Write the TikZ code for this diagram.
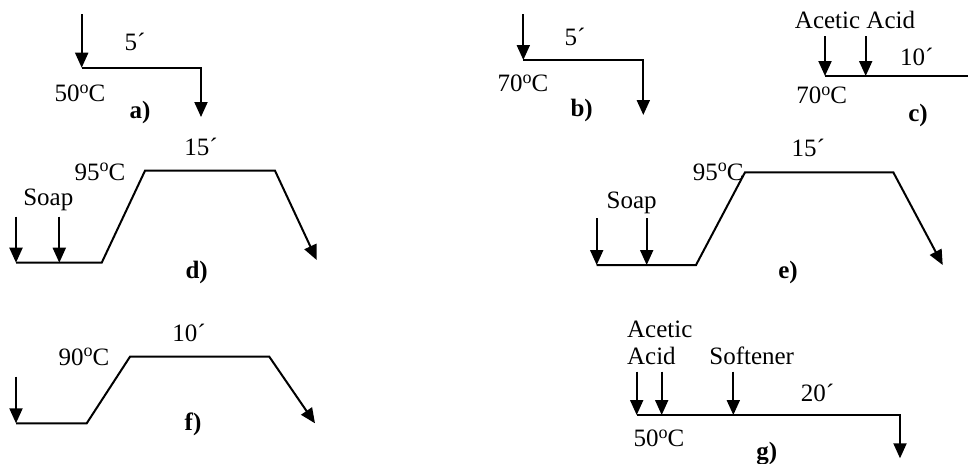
\documentclass[tikz,border=0pt]{standalone}
\usepackage{fontspec}
\setmainfont{Liberation Serif}
\usetikzlibrary{arrows.meta}
\tikzset{
 ln/.style={line width=1pt, line join=miter},
 arr/.style={ln, -{Triangle[width=6.5pt,length=7.5pt]}},
 lbl/.style={font=\fontsize{12.5}{14}\selectfont, inner sep=0pt, anchor=base},
 lblw/.style={lbl, anchor=base west},
 tag/.style={font=\fontsize{12.5}{14}\selectfont\bfseries, inner sep=0pt, anchor=base},
}
\newcommand{\degc}[1]{#1\raisebox{0.33em}{\fontsize{9}{9}\selectfont o}C}
\begin{document}
\begin{tikzpicture}[x=0.5pt,y=-0.5pt]
\path[use as bounding box] (0,0) rectangle (968,463);

% ---- a)
\coordinate (a0) at (81.7,14);
\coordinate (a1) at (81.7,67.7);
\coordinate (a2) at (201,67.7);
\coordinate (a3) at (201,117);
\draw[arr] (a0) -- (a1);
\draw[arr] (a1) -- (a2) -- (a3);
\node[lbl] (at) at (135,50) {5´};
\node[lbl] (ad) at (80,101.7) {\degc{50}};
\node[tag] (al) at (140,118.3) {a)};

% ---- b)
\coordinate (b0) at (523.3,14);
\coordinate (b1) at (523.3,60);
\coordinate (b2) at (643.3,60);
\coordinate (b3) at (643.3,115);
\draw[arr] (b0) -- (b1);
\draw[arr] (b1) -- (b2) -- (b3);
\node[lbl] (bt) at (575,45) {5´};
\node[lbl] (bd) at (523,91.7) {\degc{70}};
\node[tag] (bl) at (581.7,116.7) {b)};

% ---- c)
\coordinate (c0) at (825,36);
\coordinate (c1) at (825,76);
\coordinate (c4) at (865.7,36);
\coordinate (c5) at (865.7,76);
\coordinate (c3) at (968,76);
\draw[arr] (c0) -- (c1);
\draw[arr] (c4) -- (c5);
\draw[ln] (c1) -- (c3);
\node[lbl] (cn) at (855,28.3) {Acetic Acid};
\node[lbl] (ct) at (916.7,65) {10´};
\node[lbl] (cd) at (821.7,103.3) {\degc{70}};
\node[tag] (cl) at (918,121.7) {c)};

% ---- d)
\coordinate (d0) at (16,216.7);
\coordinate (d1) at (16,262.7);
\coordinate (d4) at (59.3,216.7);
\coordinate (d5) at (59.3,262.7);
\coordinate (d2) at (101.7,262.7);
\coordinate (d3) at (145,170.7);
\coordinate (d6) at (275,170.7);
\coordinate (d7) at (316.7,260);
\draw[arr] (d0) -- (d1);
\draw[arr] (d4) -- (d5);
\draw[arr] (d1) -- (d2) -- (d3) -- (d6) -- (d7);
\node[lbl] (dd) at (100,180) {\degc{95}};
\node[lbl] (ds) at (48.3,205) {Soap};
\node[lbl] (dt) at (201,155) {15´};
\node[tag] (dl) at (196.7,278.3) {d)};

% ---- e)
\coordinate (e0) at (596.7,218.3);
\coordinate (e1) at (596.7,265);
\coordinate (e4) at (646.7,218.3);
\coordinate (e5) at (646.7,265);
\coordinate (e2) at (696,265);
\coordinate (e3) at (745,172.3);
\coordinate (e6) at (893.3,172.3);
\coordinate (e7) at (942.7,265);
\draw[arr] (e0) -- (e1);
\draw[arr] (e4) -- (e5);
\draw[arr] (e1) -- (e2) -- (e3) -- (e6) -- (e7);
\node[lbl] (ed) at (718.3,180) {\degc{95}};
\node[lbl] (es) at (631.7,208.3) {Soap};
\node[lbl] (et) at (808.3,156.7) {15´};
\node[tag] (el) at (788,278.3) {e)};

% ---- f)
\coordinate (f0) at (16,376.7);
\coordinate (f1) at (16,423.3);
\coordinate (f2) at (86.7,423.3);
\coordinate (f3) at (130,356.7);
\coordinate (f6) at (269.3,356.7);
\coordinate (f7) at (315,423.3);
\draw[arr] (f0) -- (f1);
\draw[arr] (f1) -- (f2) -- (f3) -- (f6) -- (f7);
\node[lbl] (fd) at (84,365) {\degc{90}};
\node[lbl] (ft) at (189,341.7) {10´};
\node[tag] (fl) at (193,430) {f)};

% ---- g)
\coordinate (g0) at (636.7,371.7);
\coordinate (g1) at (636.7,415);
\coordinate (g4) at (661.7,371.7);
\coordinate (g5) at (661.7,415);
\coordinate (g8) at (733.3,371.7);
\coordinate (g9) at (733.3,415);
\coordinate (g2) at (900,415);
\coordinate (g3) at (900,458.3);
\draw[arr] (g0) -- (g1);
\draw[arr] (g4) -- (g5);
\draw[arr] (g8) -- (g9);
\draw[arr] (g1) -- (g2) -- (g3);
\node[lblw] (ga1) at (626.7,337.3) {Acetic};
\node[lblw] (ga2) at (626.7,364) {Acid};
\node[lbl] (gs) at (751.7,364) {Softener};
\node[lbl] (gt) at (817.5,401.7) {20´};
\node[lbl] (gd) at (659,446.7) {\degc{50}};
\node[tag] (gl) at (766.7,459) {g)};
\end{tikzpicture}
\end{document}
